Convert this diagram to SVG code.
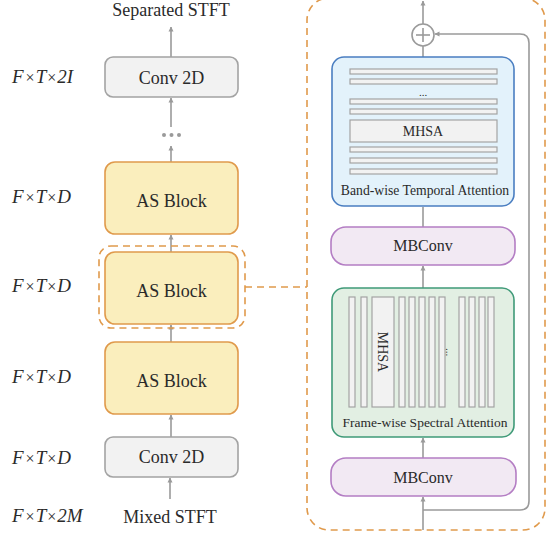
<svg xmlns="http://www.w3.org/2000/svg" width="548" height="537" viewBox="0 0 548 537">
<defs>
<style>
.t{font-family:"Liberation Serif","Times New Roman",serif;fill:#2a2a2a;text-anchor:middle}
.dim{font-family:"Liberation Serif","Times New Roman",serif;fill:#2a2a2a;font-style:italic;font-size:19px}
.x{font-style:normal;font-size:16px}
.conv{fill:#f2f2f2;stroke:#a3a3a3;stroke-width:1.6}
.as{fill:#faeebd;stroke:#e09a4c;stroke-width:1.6}
.mb{fill:#f2e9f3;stroke:#b47ec4;stroke-width:1.6}
.bar{fill:#f2f2f2;stroke:#a3a3a3;stroke-width:1.2}
.ln{fill:none;stroke:#9a9a9a;stroke-width:1.6}
.dash{fill:none;stroke:#e09a4c;stroke-width:1.6;stroke-dasharray:7,5}
</style>
<marker id="ah" viewBox="0 0 10 10" refX="9" refY="5" markerWidth="5" markerHeight="6" orient="auto" markerUnits="userSpaceOnUse">
<path d="M0,0 L10,5 L0,10 z" fill="#9a9a9a"/>
</marker>
</defs>
<rect width="548" height="537" fill="#ffffff"/>

<g id="labels">
<text class="t" x="171" y="16" font-size="18">Separated STFT</text>
<text class="t" x="170" y="523" font-size="18">Mixed STFT</text>
<text class="dim" x="12" y="83">F<tspan class="x" dx="2">×</tspan><tspan dx="1">T</tspan><tspan class="x" dx="1">×</tspan><tspan dx="1">2I</tspan></text>
<text class="dim" x="12" y="203">F<tspan class="x" dx="2">×</tspan><tspan dx="1">T</tspan><tspan class="x" dx="1">×</tspan><tspan dx="1">D</tspan></text>
<text class="dim" x="12" y="292">F<tspan class="x" dx="2">×</tspan><tspan dx="1">T</tspan><tspan class="x" dx="1">×</tspan><tspan dx="1">D</tspan></text>
<text class="dim" x="12" y="383">F<tspan class="x" dx="2">×</tspan><tspan dx="1">T</tspan><tspan class="x" dx="1">×</tspan><tspan dx="1">D</tspan></text>
<text class="dim" x="12" y="464">F<tspan class="x" dx="2">×</tspan><tspan dx="1">T</tspan><tspan class="x" dx="1">×</tspan><tspan dx="1">D</tspan></text>
<text class="dim" x="12" y="522">F<tspan class="x" dx="2">×</tspan><tspan dx="1">T</tspan><tspan class="x" dx="1">×</tspan><tspan dx="1">2M</tspan></text>
</g>

<g id="connectors">
<line class="ln" x1="171" y1="57" x2="171" y2="27" marker-end="url(#ah)"/>
<line class="ln" x1="171" y1="127" x2="171" y2="98" marker-end="url(#ah)"/>
<circle cx="164" cy="135" r="2" fill="#9a9a9a"/>
<circle cx="171.5" cy="135" r="2" fill="#9a9a9a"/>
<circle cx="179" cy="135" r="2" fill="#9a9a9a"/>
<line class="ln" x1="171" y1="162" x2="171" y2="146" marker-end="url(#ah)"/>
<line class="ln" x1="171" y1="252" x2="171" y2="235" marker-end="url(#ah)"/>
<line class="ln" x1="171" y1="342" x2="171" y2="325" marker-end="url(#ah)"/>
<line class="ln" x1="171" y1="437" x2="171" y2="415" marker-end="url(#ah)"/>
<line class="ln" x1="170" y1="499" x2="170" y2="478" marker-end="url(#ah)"/>
<rect class="dash" x="99" y="246" width="146" height="82" rx="12"/>
<line class="dash" x1="245" y1="287" x2="307" y2="287"/>
<rect class="dash" x="307" y="-2" width="238" height="532" rx="22"/>
<line class="ln" x1="423" y1="530" x2="423" y2="497" marker-end="url(#ah)"/>
<line class="ln" x1="423" y1="458" x2="423" y2="438" marker-end="url(#ah)"/>
<line class="ln" x1="423" y1="288" x2="423" y2="266" marker-end="url(#ah)"/>
<line class="ln" x1="423" y1="227" x2="423" y2="207"/>
<line class="ln" x1="423" y1="57" x2="423" y2="46"/>
<line class="ln" x1="423" y1="24" x2="423" y2="1" marker-end="url(#ah)"/>
<path class="ln" d="M423,510 L520,510 Q529,510 529,501 L529,43 Q529,34 520,34 L435,34" marker-end="url(#ah)"/>
</g>

<g id="conv-top">
<rect class="conv" x="105" y="57" width="133" height="40" rx="8"/>
<text class="t" x="171.5" y="84" font-size="18">Conv 2D</text>
</g>
<g id="as-block-1">
<rect class="as" x="105" y="162" width="133" height="72" rx="10"/>
<text class="t" x="171.5" y="207" font-size="18">AS Block</text>
</g>
<g id="as-block-2">
<rect class="as" x="105" y="252" width="133" height="72" rx="10"/>
<text class="t" x="171.5" y="297" font-size="18">AS Block</text>
</g>
<g id="as-block-3">
<rect class="as" x="105" y="342" width="133" height="72" rx="10"/>
<text class="t" x="171.5" y="387" font-size="18">AS Block</text>
</g>
<g id="conv-bottom">
<rect class="conv" x="105" y="437" width="133" height="40" rx="8"/>
<text class="t" x="171.5" y="463" font-size="18">Conv 2D</text>
</g>

<g id="add">
<circle cx="423" cy="35" r="11" fill="#ffffff" stroke="#9a9a9a" stroke-width="1.6"/>
<line x1="416" y1="35" x2="430" y2="35" stroke="#9a9a9a" stroke-width="1.6"/>
<line x1="423" y1="28" x2="423" y2="42" stroke="#9a9a9a" stroke-width="1.6"/>
</g>

<g id="band-attention">
<rect x="332" y="57" width="182" height="149" rx="12" fill="#e3f2fb" stroke="#4a7ec1" stroke-width="1.6"/>
<rect class="bar" x="350" y="69" width="147" height="5"/>
<rect class="bar" x="350" y="79" width="147" height="5"/>
<text class="t" x="423" y="96" font-size="11">...</text>
<rect class="bar" x="350" y="99" width="147" height="5"/>
<rect class="bar" x="350" y="109" width="147" height="5"/>
<rect class="bar" x="350" y="120" width="147" height="22"/>
<text class="t" x="423" y="136" font-size="14">MHSA</text>
<rect class="bar" x="350" y="147" width="147" height="5"/>
<rect class="bar" x="350" y="158" width="147" height="5"/>
<rect class="bar" x="350" y="169" width="147" height="5"/>
<text class="t" x="425" y="195" font-size="13.7">Band-wise Temporal Attention</text>
</g>

<g id="mbconv-top">
<rect class="mb" x="331" y="227" width="184" height="38" rx="15"/>
<text class="t" x="423" y="251" font-size="16">MBConv</text>
</g>

<g id="frame-attention">
<rect x="332" y="288" width="182" height="149" rx="12" fill="#e2efe3" stroke="#3f9a78" stroke-width="1.6"/>
<rect class="bar" x="349" y="297" width="6" height="110"/>
<rect class="bar" x="361" y="297" width="6" height="110"/>
<rect class="bar" x="372" y="297" width="22" height="110"/>
<text class="t" x="383" y="352" font-size="14" transform="rotate(90 383 352)" dy="5">MHSA</text>
<rect class="bar" x="399" y="297" width="6" height="110"/>
<rect class="bar" x="409" y="297" width="6" height="110"/>
<rect class="bar" x="419" y="297" width="6" height="110"/>
<rect class="bar" x="429" y="297" width="6" height="110"/>
<rect class="bar" x="439" y="297" width="6" height="110"/>
<text class="t" x="449" y="352" font-size="11" transform="rotate(90 449 352)" dy="3">...</text>
<rect class="bar" x="459" y="297" width="6" height="110"/>
<rect class="bar" x="469" y="297" width="6" height="110"/>
<rect class="bar" x="479" y="297" width="6" height="110"/>
<rect class="bar" x="488" y="297" width="6" height="110"/>
<text class="t" x="425" y="427" font-size="13.5">Frame-wise Spectral Attention</text>
</g>

<g id="mbconv-bottom">
<rect class="mb" x="331" y="458" width="185" height="38" rx="15"/>
<text class="t" x="423" y="483" font-size="16">MBConv</text>
</g>
</svg>
